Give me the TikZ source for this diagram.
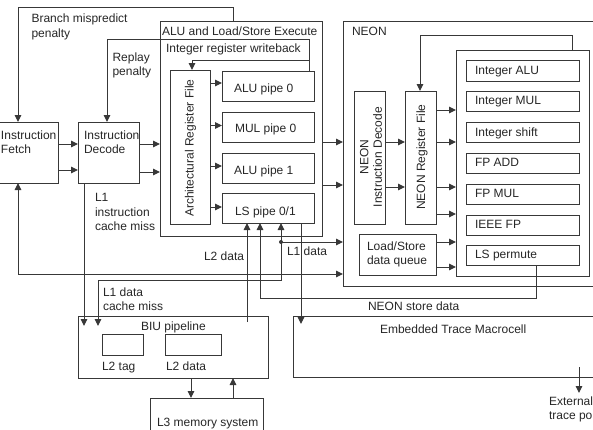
\documentclass[tikz,border=0pt]{standalone}
\usepackage{fontspec}
\setmainfont{Liberation Sans}
\usetikzlibrary{arrows.meta}
\newcommand\bx[5]{\node[box, minimum width={(#4-(#2))*1pt}, minimum height={(#5-(#3))*1pt}] (#1) at ({(#2+#4)/2},{(#3+#5)/2}) {};}
\begin{document}
\begin{tikzpicture}[x=1pt,y=-1pt,
  ln/.style={draw=black!78, line width=1pt},
  box/.style={ln, rectangle, inner sep=0pt, outer sep=0pt},
  arr/.style={ln, -{Triangle[length=7pt,width=6.5pt]}},
  arrtwo/.style={ln, {Triangle[length=7pt,width=6.5pt]}-{Triangle[length=7pt,width=6.5pt]}},
  txt/.style={inner sep=0pt, outer sep=0pt, anchor=north west, align=left, font=\fontsize{12}{14.5}\selectfont, text=black!85},
  rot/.style={inner sep=0pt, outer sep=0pt, rotate=90, align=center, font=\fontsize{12}{13.5}\selectfont, text=black!85}
]
\useasboundingbox (0,0) rectangle (593,429);
% boxes
\bx{fetch}{-3}{122}{58}{183}
\bx{decode}{78}{122}{139}{183}
\bx{alub}{160}{21}{322}{236}
\bx{arf}{170}{70}{210}{224}
\bx{alu0}{222}{71}{314}{101}
\bx{mul0}{222}{112}{314}{142}
\bx{alu1}{222}{153}{314}{183}
\bx{lsp}{222}{193}{314}{223}
\bx{neon}{343}{21}{605}{286}
\bx{nid}{354}{91}{385}{224}
\bx{nrf}{405}{91}{436}{224}
\bx{inner}{456}{50}{589}{276}
\bx{ialu}{466}{60}{579}{81}
\bx{imul}{466}{91}{579}{111}
\bx{ishift}{466}{122}{579}{142}
\bx{fpadd}{466}{153}{579}{173}
\bx{fpmul}{466}{184}{579}{204}
\bx{ieee}{466}{215}{579}{235}
\bx{lsperm}{466}{245}{579}{265}
\bx{lsq}{359}{234}{436}{275}
\bx{etm}{293}{316}{605}{377}
\bx{biu}{78}{316}{268}{378}
\bx{ltag}{102}{334}{143}{355}
\bx{ldata}{165}{334}{221}{355}
\bx{lthree}{150}{398}{263}{445}
% texts
\node[txt] (tbr) at (31.5,14) {Branch mispredict\\penalty};
\node[txt] (trp) at (112.5,52.4) {Replay\\penalty};
\node[txt] (tfe) at (1,130.7) {Instruction\\Fetch};
\node[txt] (tde) at (84,130.7) {Instruction\\Decode};
\node[txt] (talu) at (162,26.7) {ALU and Load/Store Execute};
\node[txt] (twb) at (166,43.7) {Integer register writeback};
\node[rot] (tarf) at (190.5,148) {Architectural Register File};
\node[txt] (ta0) at (234,83.7) {ALU pipe 0};
\node[txt] (tm0) at (235,123.7) {MUL pipe 0};
\node[txt] (ta1) at (234,165.7) {ALU pipe 1};
\node[txt] (tls) at (235,206.7) {LS pipe 0/1};
\node[txt] (tneon) at (352,26.7) {NEON};
\node[rot] (tnid) at (371,157) {NEON\\Instruction Decode};
\node[rot] (tnrf) at (422,157) {NEON Register File};
\node[txt] (tialu) at (475,66.2) {Integer ALU};
\node[txt] (timul) at (475,96.7) {Integer MUL};
\node[txt] (tish) at (475,127.7) {Integer shift};
\node[txt] (tfpa) at (475,158.7) {FP ADD};
\node[txt] (tfpm) at (475,189.7) {FP MUL};
\node[txt] (tieee) at (475,220.7) {IEEE FP};
\node[txt] (tlsp) at (475,249.7) {LS permute};
\node[txt] (tlsq) at (367,241.7) {Load/Store\\data queue};
\node[txt] (tl1i) at (95,193.7) {L1\\instruction\\cache miss};
\node[txt] (tl2d) at (204,251.7) {L2 data};
\node[txt] (tl1d) at (287,246.7) {L1 data};
\node[txt] (tl1m) at (103,287.7) {L1 data\\cache miss};
\node[txt] (tnsd) at (368,301.7) {NEON store data};
\node[txt] (tetm) at (380,324.7) {Embedded Trace Macrocell};
\node[txt] (tbiu) at (141,321.7) {BIU pipeline};
\node[txt] (tltag) at (102,361.7) {L2 tag};
\node[txt] (tldat) at (166,361.7) {L2 data};
\node[txt] (tl3) at (157,417.7) {L3 memory system};
\node[txt] (text) at (549,396.7) {External\\trace port};
% connectors
\draw[arr] (fetch.east |- 0,144) -- (decode.west |- 0,144);
\draw[arr] (fetch.east |- 0,170) -- (decode.west |- 0,170);
\draw[arr] (decode.east |- 0,144) -- (alub.west |- 0,144);
\draw[arr] (decode.east |- 0,172) -- (alub.west |- 0,172);
\draw[arr] (alub.north -| 233,0) -- (233,7) -- (18,7) -- (fetch.north -| 18,0);
\draw[arr] (alu0.north -| 309,0) -- (309,39) -- (107,39) -- (decode.north -| 107,0);
\coordinate (wbj) at (309,60);
\draw[arr] (wbj) -- (192,60) -- (arf.north -| 192,0);
\draw[arr] (arf.east |- 0,83) -- (alu0.west |- 0,83);
\draw[arr] (arf.east |- 0,125.5) -- (mul0.west |- 0,125.5);
\draw[arr] (arf.east |- 0,166) -- (alu1.west |- 0,166);
\draw[arr] (arf.east |- 0,207) -- (lsp.west |- 0,207);
\draw[arr] (alub.east |- 0,142) -- (neon.west |- 0,142);
\draw[arr] (alub.east |- 0,185) -- (neon.west |- 0,185);
\draw[arr] (nid.east |- 0,142) -- (nrf.west |- 0,142);
\draw[arr] (nid.east |- 0,187) -- (nrf.west |- 0,187);
\draw[arr] (nrf.east |- 0,110) -- (inner.west |- 0,110);
\draw[arr] (nrf.east |- 0,142) -- (inner.west |- 0,142);
\draw[arr] (nrf.east |- 0,187) -- (inner.west |- 0,187);
\draw[arr] (nrf.east |- 0,214) -- (inner.west |- 0,214);
\draw[arr] (lsq.east |- 0,242) -- (inner.west |- 0,242);
\draw[arr] (lsq.east |- 0,267) -- (inner.west |- 0,267);
\draw[arr] (inner.north -| 572,0) -- (572,35) -- (420,35) -- (nrf.north -| 420,0);
% L1 data net
\coordinate (dot) at (281,242);
\fill[black!78] (dot) circle (2pt);
\draw[arr] (dot) -- (lsp.south -| dot);
\draw[arr] (dot) -- (neon.west |- dot);
\coordinate (bmiss) at (98,326);
\draw[arr] (dot) -- (281,280) -- (98,280) -- (bmiss);
% big loop
\coordinate (bl) at (18,274);
\draw[arrtwo] (fetch.south -| bl) -- (bl) -- (neon.west |- bl);
% misc
\coordinate (imiss) at (84,326);
\draw[arr] (decode.south -| imiss) -- (imiss);
\coordinate (l2src) at (247,322);
\draw[arr] (l2src) -- (lsp.south -| l2src);
\draw[arr] (lsperm.south -| 536,0) -- (536,298) -- (260,298) -- (lsp.south -| 260,0);
\coordinate (etmin) at (301,324);
\draw[arr] (lsp.south -| etmin) -- (etmin);
\coordinate (extsrc) at (579,367);
\draw[arr] (extsrc) -- (579,393);
\draw[arr] (biu.south -| 191,0) -- (lthree.north -| 191,0);
\draw[arr] (lthree.north -| 233,0) -- (biu.south -| 233,0);
\end{tikzpicture}
\end{document}
